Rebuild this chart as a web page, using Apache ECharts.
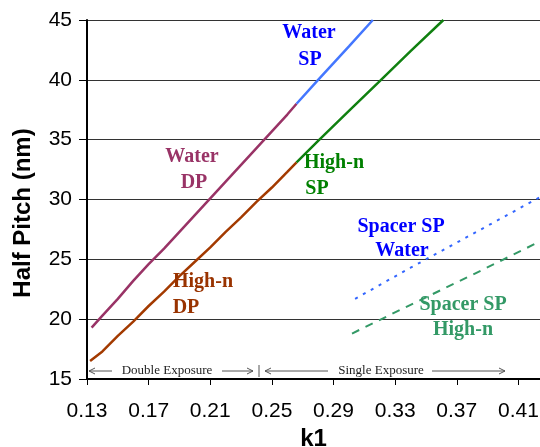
<!DOCTYPE html>
<html>
<head>
<meta charset="utf-8">
<script src="https://cdn.jsdelivr.net/npm/echarts@6/dist/echarts.min.js"></script>
<style>
html,body{margin:0;padding:0;background:#fff;}
#chart{width:540px;height:447px;}
</style>
</head>
<body>
<div id="chart"></div>
<script>
// ---- data ----
const xTickLabels = ['0.13','0.17','0.21','0.25','0.29','0.33','0.37','0.41'];
const yTickLabels = ['15','20','25','30','35','40','45'];

const waterDP = [[0.133,19.3],[0.14,20.3],[0.15,21.7],[0.16,23.2],[0.17,24.6],[0.18,25.9],[0.19,27.3],[0.20,28.7],[0.21,30.1],[0.22,31.5],[0.23,32.9],[0.24,34.3],[0.25,35.7],[0.26,37.1],[0.266,38.0]];
const waterSP = [[0.266,38.0],[0.28,40.0],[0.29,41.4],[0.30,42.8],[0.3155,45.0]];
const highnDP = [[0.132,16.5],[0.14,17.3],[0.15,18.6],[0.16,19.8],[0.17,21.1],[0.18,22.3],[0.19,23.6],[0.20,24.8],[0.21,26.0],[0.22,27.3],[0.23,28.5],[0.24,29.8],[0.25,31.0],[0.26,32.3],[0.266,33.1]];
const highnSP = [[0.266,33.1],[0.28,34.9],[0.30,37.4],[0.32,39.9],[0.34,42.4],[0.3613,45.0]];
const spacerWater = [[0.304,21.7],[0.34,24.3],[0.38,27.1],[0.424,30.2]];
const spacerHighn = [[0.302,18.8],[0.34,21.2],[0.38,23.7],[0.424,26.5]];

// ---- chart ----
const chart = echarts.init(document.getElementById('chart'), null, {renderer:'canvas'});
const serifBold = {fontFamily:'Liberation Serif', fontWeight:'bold', fontSize:20};
function label(text, x, y, color){
  return {type:'text', x:x, y:y, z:10, style:Object.assign({text:text, fill:color, align:'center', verticalAlign:'middle'}, serifBold)};
}
function hline(x1,x2,y){
  return {type:'line', shape:{x1:x1,y1:y,x2:x2,y2:y}, style:{stroke:'#555', lineWidth:1}};
}
function head(x,y,dir){
  return {type:'polyline', shape:{points:[[x+dir*6,y-3],[x,y],[x+dir*6,y+3]]}, style:{stroke:'#555', lineWidth:1, fill:null}};
}
const ay = 371;
const smallText = {fontFamily:'Liberation Serif', fontSize:13, fill:'#222'};

const option = {
  animation:false,
  backgroundColor:'#fff',
  grid:{left:87, right:0, top:20, bottom:68, containLabel:false, outerBoundsMode:'none'},
  xAxis:{
    type:'value', min:0.13, max:0.424,
    name:'k1', nameLocation:'middle', nameGap:46,
    nameTextStyle:{fontFamily:'Liberation Sans', fontWeight:'bold', fontSize:24, color:'#000'},
    axisLine:{show:true, onZero:false, lineStyle:{color:'#000', width:2}},
    axisTick:{show:true, inside:false, length:6, lineStyle:{color:'#000', width:1}, customValues:xTickLabels.map(Number)},
    axisLabel:{fontFamily:'Liberation Sans', fontSize:21, color:'#000', margin:22, customValues:xTickLabels.map(Number), formatter:v=>v.toFixed(2)},
    splitLine:{show:false}
  },
  yAxis:{
    type:'value', min:15, max:45, interval:5,
    name:'Half Pitch (nm)', nameLocation:'middle', nameGap:52, nameRotate:90,
    nameTextStyle:{fontFamily:'Liberation Sans', fontWeight:'bold', fontSize:24, color:'#000', padding:[0,27,0,0]},
    axisLine:{show:true, lineStyle:{color:'#000', width:2}},
    axisTick:{show:true, inside:false, length:8, lineStyle:{color:'#000', width:1}},
    axisLabel:{fontFamily:'Liberation Sans', fontSize:21, color:'#000', margin:15, formatter:v=>yTickLabels[yTickLabels.indexOf(String(v))]},
    splitLine:{show:true, lineStyle:{color:'#333', width:1}}
  },
  series:[
    {type:'line', data:waterDP, showSymbol:false, lineStyle:{color:'#993366', width:2.5}},
    {type:'line', data:waterSP, showSymbol:false, lineStyle:{color:'#4477FF', width:2.5}},
    {type:'line', data:highnDP, showSymbol:false, lineStyle:{color:'#A33A00', width:2.5}},
    {type:'line', data:highnSP, showSymbol:false, lineStyle:{color:'#108010', width:2.5}},
    {type:'line', data:spacerWater, showSymbol:false, lineStyle:{color:'#3366FF', width:2, type:[3,6]}},
    {type:'line', data:spacerHighn, showSymbol:false, lineStyle:{color:'#339966', width:2, type:[8,7]}}
  ],
  graphic:[
    label('Water',192,157,'#993366'), label('DP',194,183,'#993366'),
    label('Water',309,33,'#0000FF'), label('SP',310,60,'#0000FF'),
    label('High-n',334,163,'#008000'), label('SP',317,189,'#008000'),
    label('High-n',203,282,'#993300'), label('DP',186,308,'#993300'),
    label('Spacer SP',401,227,'#0000FF'), label('Water',402,251,'#0000FF'),
    label('Spacer SP',463,305,'#339966'), label('High-n',463,330,'#339966'),
    hline(89,112,ay), head(89,ay,1),
    {type:'text', x:167, y:ay, style:Object.assign({text:'Double Exposure', align:'center', verticalAlign:'middle'}, smallText)},
    hline(222,253,ay), head(253,ay,-1),
    {type:'line', shape:{x1:259,y1:365,x2:259,y2:377}, style:{stroke:'#555', lineWidth:1}},
    hline(265,328,ay), head(265,ay,1),
    {type:'text', x:381, y:ay, style:Object.assign({text:'Single Exposure', align:'center', verticalAlign:'middle'}, smallText)},
    hline(432,505,ay), head(505,ay,-1)
  ]
};
chart.setOption(option);
</script>
</body>
</html>
